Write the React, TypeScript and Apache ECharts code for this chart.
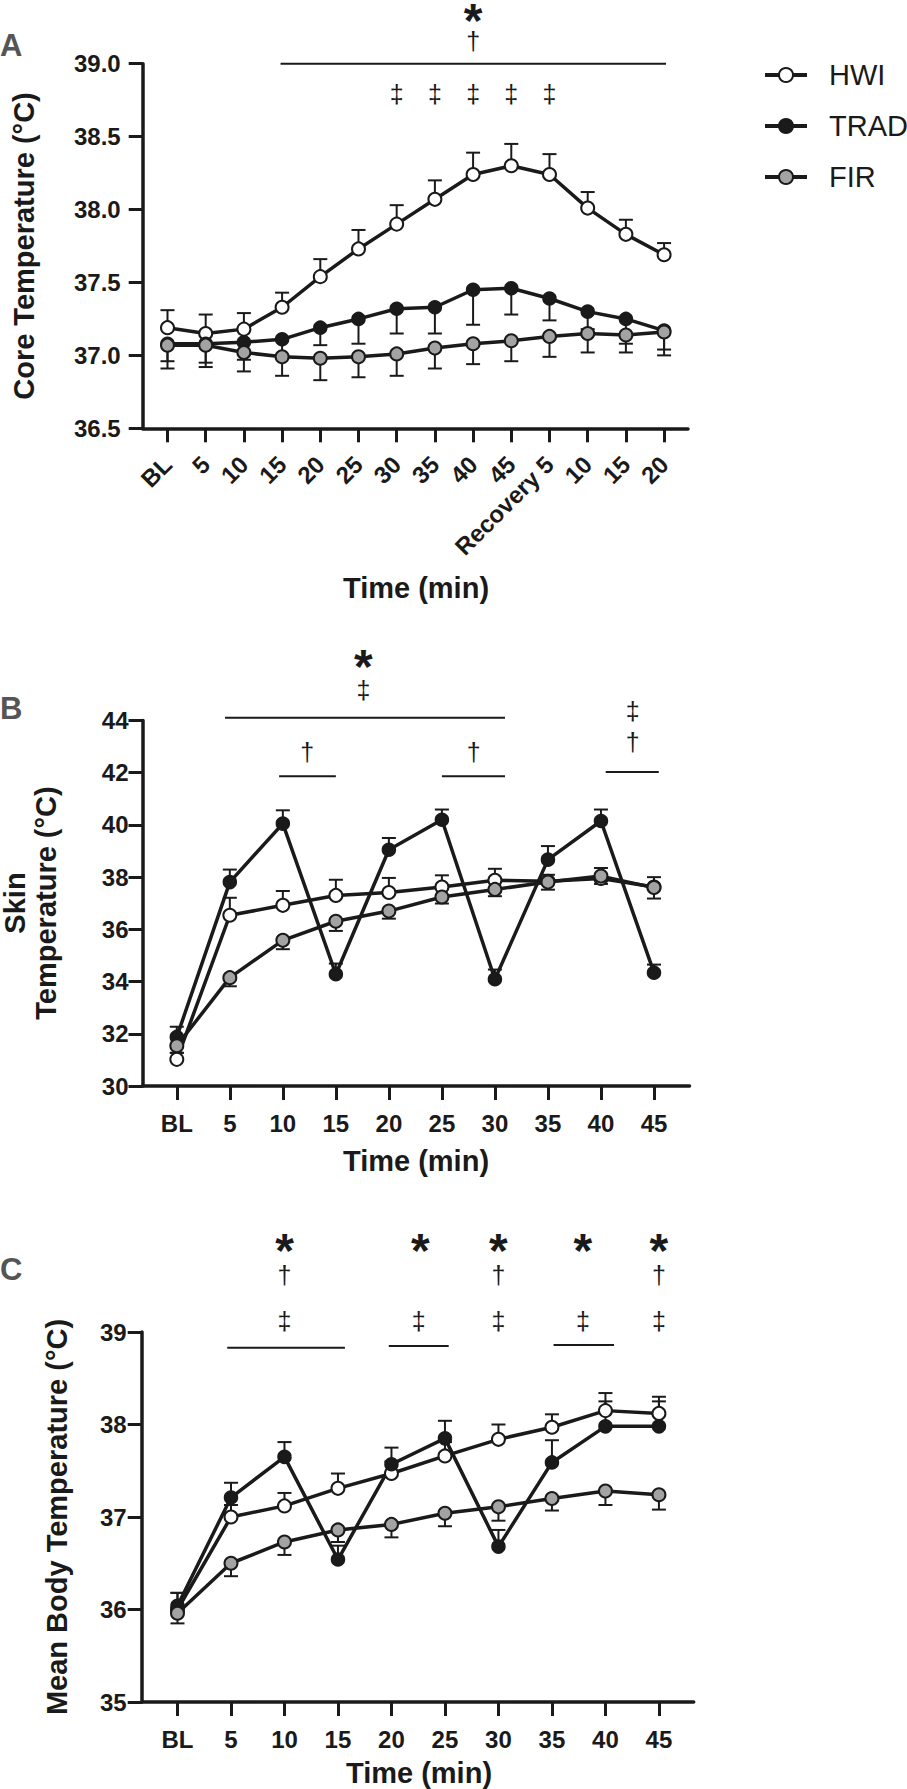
import React, { useEffect, useRef } from 'react';
import * as echarts from 'echarts';

const FONT = '"Liberation Sans", Arial, Helvetica, sans-serif';
const INK = '#1a1a1a';
const GREY = '#a3a3a3';
const LETTER = '#555555';

// ---------- categories ----------
const CAT_A = ['BL', '5', '10', '15', '20', '25', '30', '35', '40', '45', 'Recovery 5', '10', '15', '20'];
const CAT_BC = ['BL', '5', '10', '15', '20', '25', '30', '35', '40', '45'];

// ---------- panel A : core temperature ----------
const HWI_A = [37.19, 37.15, 37.18, 37.33, 37.54, 37.73, 37.9, 38.07, 38.24, 38.3, 38.24, 38.01, 37.83, 37.69];
const HWI_A_ERR = [0.12, 0.13, 0.11, 0.1, 0.12, 0.13, 0.13, 0.13, 0.15, 0.15, 0.14, 0.11, 0.1, 0.08];
const TRAD_A = [37.08, 37.08, 37.09, 37.11, 37.19, 37.25, 37.32, 37.33, 37.45, 37.46, 37.39, 37.3, 37.25, 37.17];
const TRAD_A_ERR = [0.12, 0.13, 0.12, 0.11, 0.12, 0.17, 0.17, 0.18, 0.24, 0.18, 0.15, 0.12, 0.17, 0.13];
const FIR_A = [37.07, 37.07, 37.02, 36.99, 36.98, 36.99, 37.01, 37.05, 37.08, 37.1, 37.13, 37.15, 37.14, 37.16];
const FIR_A_ERR = [0.16, 0.15, 0.13, 0.13, 0.15, 0.14, 0.15, 0.14, 0.14, 0.14, 0.14, 0.13, 0.12, 0.16];

// ---------- panel B : skin temperature ----------
const HWI_B = [31.02, 36.54, 36.92, 37.3, 37.41, 37.62, 37.88, 37.84, 37.95, 37.62];
const HWI_B_ERR = [0.25, 0.67, 0.55, 0.6, 0.56, 0.45, 0.44, 0.25, 0.4, 0.38];
const TRAD_B = [31.88, 37.81, 40.05, 34.28, 39.05, 40.2, 34.09, 38.67, 40.15, 34.34];
const TRAD_B_ERR = [0.39, 0.48, 0.51, 0.41, 0.45, 0.39, 0.37, 0.52, 0.44, 0.31];
const FIR_B = [31.54, 34.15, 35.58, 36.31, 36.7, 37.24, 37.53, 37.81, 38.04, 37.6];
const FIR_B_ERR = [0.27, 0.33, 0.34, 0.37, 0.29, 0.25, 0.26, 0.29, 0.3, 0.42];

// ---------- panel C : mean body temperature ----------
const HWI_C = [36.0, 37.0, 37.12, 37.31, 37.47, 37.66, 37.84, 37.97, 38.15, 38.12];
const HWI_C_ERR = [0.18, 0.13, 0.14, 0.16, 0.13, 0.15, 0.16, 0.14, 0.19, 0.18];
const TRAD_C = [36.04, 37.21, 37.65, 36.54, 37.57, 37.85, 36.68, 37.59, 37.98, 37.98];
const TRAD_C_ERR = [0.14, 0.16, 0.16, 0.15, 0.18, 0.19, 0.18, 0.24, 0.27, 0.27];
const FIR_C = [35.96, 36.5, 36.73, 36.86, 36.92, 37.04, 37.11, 37.2, 37.28, 37.24];
const FIR_C_ERR = [0.11, 0.14, 0.14, 0.13, 0.14, 0.14, 0.15, 0.13, 0.15, 0.16];

// ---------- y-axis ticks ----------
const Y_A = { min: 36.5, max: 39.0, interval: 0.5 };
const Y_B = { min: 30, max: 44, interval: 2 };
const Y_C = { min: 35, max: 39, interval: 1 };

// ---------- significance annotations (x in time-point index, y in axis units) ----------
const SYMBOLS = ['*', '†', '‡'];
const A_SPANS = [[2.96, 13.05, 39.0]];
const A_MARKS = [[8, 39.298, 0], [8, 39.156, 1], [6, 38.789, 2], [7, 38.789, 2], [8, 38.789, 2], [9, 38.789, 2], [10, 38.789, 2]];
const B_SPANS = [[0.91, 6.19, 44.107], [1.93, 3.0, 41.862], [5.0, 6.19, 41.862], [8.09, 9.09, 42.027]];
const B_MARKS = [[3.52, 46.05, 0], [3.52, 45.17, 2], [2.46, 42.8, 1], [5.6, 42.8, 1], [8.6, 44.36, 2], [8.6, 43.19, 1]];
const C_SPANS = [[0.93, 3.13, 38.83], [3.95, 5.07, 38.85], [7.03, 8.16, 38.86]];
const C_MARKS = [
  [2, 39.886, 0], [4.54, 39.886, 0], [6, 39.886, 0], [7.58, 39.886, 0], [9, 39.886, 0],
  [2, 39.616, 1], [6, 39.616, 1], [9, 39.616, 1],
  [2, 39.124, 2], [4.51, 39.124, 2], [6, 39.124, 2], [7.58, 39.124, 2], [9, 39.124, 2],
];

const GROUPS = [
  { name: 'HWI', fill: '#ffffff', size: 13 },
  { name: 'TRAD', fill: INK, size: 12.5 },
  { name: 'FIR', fill: GREY, size: 13 },
];

function axisCommon() {
  return {
    axisLine: { show: true, onZero: false, lineStyle: { color: INK, width: 3.5 } },
    axisTick: { show: true, length: 14, lineStyle: { color: INK, width: 3 } },
    splitLine: { show: false },
  };
}

function xAxis(idx: number, cats: string[], min: number, max: number, rotate: number, margin: number) {
  const ticks = cats.map((_, i) => i);
  const c = axisCommon();
  return {
    type: 'value',
    gridIndex: idx,
    min,
    max,
    axisLine: c.axisLine,
    axisTick: { ...c.axisTick, customValues: ticks },
    splitLine: c.splitLine,
    axisLabel: {
      customValues: ticks,
      formatter: (v: number) => cats[Math.round(v)] ?? '',
      rotate,
      margin,
      color: INK,
      fontFamily: FONT,
      fontWeight: 'bold',
      fontSize: 24,
      lineHeight: 24,
    },
  };
}

function yAxis(idx: number, cfg: { min: number; max: number; interval: number }, decimals: number, margin: number) {
  const c = axisCommon();
  return {
    type: 'value',
    gridIndex: idx,
    min: cfg.min,
    max: cfg.max,
    interval: cfg.interval,
    ...c,
    axisLabel: {
      margin,
      color: INK,
      fontFamily: FONT,
      fontWeight: 'bold',
      fontSize: 24,
      formatter: (v: number) => v.toFixed(decimals),
    },
  };
}

function panelSeries(p: number, values: number[][], errs: number[][], dirs: number[]) {
  const out: any[] = [];
  GROUPS.forEach((g, gi) => {
    const vals = values[gi];
    const err = errs[gi];
    const dir = dirs[gi];
    out.push({
      type: 'custom',
      name: 'err-' + g.name + '-' + p,
      xAxisIndex: p,
      yAxisIndex: p,
      silent: true,
      clip: false,
      data: vals.map((v, i) => [i, v, err[i] * dir]),
      encode: { x: 0, y: 1 },
      renderItem: (_params: any, api: any) => {
        const x = api.value(0);
        const y = api.value(1);
        const d = api.value(2);
        const p0 = api.coord([x, y]);
        const p1 = api.coord([x, y + d]);
        const hw = 7;
        return {
          type: 'group',
          children: [
            { type: 'line', shape: { x1: p0[0], y1: p0[1], x2: p1[0], y2: p1[1] }, style: { stroke: INK, lineWidth: 2 } },
            { type: 'line', shape: { x1: p1[0] - hw, y1: p1[1], x2: p1[0] + hw, y2: p1[1] }, style: { stroke: INK, lineWidth: 2 } },
          ],
        };
      },
    });
    out.push({
      type: 'line',
      name: g.name,
      xAxisIndex: p,
      yAxisIndex: p,
      silent: true,
      data: vals.map((v, i) => [i, v]),
      symbol: 'circle',
      symbolSize: g.size,
      showAllSymbol: true,
      lineStyle: { color: INK, width: 3.5 },
      itemStyle: { color: g.fill, borderColor: INK, borderWidth: 2 },
      emphasis: { disabled: true },
    });
  });
  return out;
}

function annotationSeries(p: number, spans: number[][], marks: number[][]) {
  return [
    {
      type: 'custom',
      name: 'sig-lines-' + p,
      xAxisIndex: p,
      yAxisIndex: p,
      silent: true,
      clip: false,
      data: spans,
      encode: { x: 0, y: 2 },
      renderItem: (_params: any, api: any) => {
        const a = api.coord([api.value(0), api.value(2)]);
        const b = api.coord([api.value(1), api.value(2)]);
        return { type: 'line', shape: { x1: a[0], y1: a[1], x2: b[0], y2: b[1] }, style: { stroke: INK, lineWidth: 2 } };
      },
    },
    {
      type: 'custom',
      name: 'sig-marks-' + p,
      xAxisIndex: p,
      yAxisIndex: p,
      silent: true,
      clip: false,
      data: marks,
      encode: { x: 0, y: 1 },
      renderItem: (_params: any, api: any) => {
        const pt = api.coord([api.value(0), api.value(1)]);
        const k = api.value(2);
        const star = k === 0;
        return {
          type: 'text',
          x: pt[0],
          y: pt[1],
          style: {
            text: SYMBOLS[k],
            fill: INK,
            align: 'center',
            verticalAlign: 'middle',
            fontFamily: FONT,
            fontWeight: star ? 'bold' : 'normal',
            fontSize: star ? 48 : 25,
          },
        };
      },
    },
  ];
}

function titleText(text: string, x: number, y: number, rotation = 0) {
  return {
    type: 'text',
    x,
    y,
    rotation,
    silent: true,
    style: {
      text,
      fill: INK,
      align: 'center',
      verticalAlign: 'middle',
      fontFamily: FONT,
      fontWeight: 'bold',
      fontSize: 29,
    },
  };
}

function letterText(text: string, y: number) {
  return {
    type: 'text',
    x: 0,
    y,
    silent: true,
    style: { text, fill: LETTER, align: 'left', verticalAlign: 'middle', fontFamily: FONT, fontWeight: 'bold', fontSize: 31 },
  };
}

export default function App() {
  const ref = useRef<HTMLDivElement>(null);
  useEffect(() => {
    if (!ref.current) return;
    const chart = echarts.init(ref.current, undefined, { renderer: 'svg' });
    const option: any = {
      animation: false,
      backgroundColor: '#ffffff',
      textStyle: { fontFamily: FONT },
      grid: [
        { left: 142.7, top: 63.7, width: 545.3, height: 364.6 },
        { left: 142.5, top: 720.5, width: 547, height: 365.5 },
        { left: 141.7, top: 1332, width: 552, height: 370 },
      ],
      xAxis: [
        xAxis(0, CAT_A, -0.649, 13.626, 45, 32),
        xAxis(1, CAT_BC, -0.647, 9.67, 0, 25),
        xAxis(2, CAT_BC, -0.669, 9.65, 0, 25),
      ],
      yAxis: [yAxis(0, Y_A, 1, 22), yAxis(1, Y_B, 0, 14), yAxis(2, Y_C, 0, 15)],
      legend: {
        data: ['HWI', 'TRAD', 'FIR'],
        orient: 'vertical',
        left: 763,
        top: 60,
        padding: 0,
        itemWidth: 42,
        itemHeight: 17.5,
        itemGap: 21,
        selectedMode: false,
        lineStyle: { width: 4 },
        textStyle: { fontFamily: FONT, fontSize: 29, color: INK, lineHeight: 30, padding: [0, 0, 0, 17] },
      },
      graphic: [
        letterText('A', 45),
        letterText('B', 708),
        letterText('C', 1269.5),
        titleText('Core Temperature (°C)', 24, 246, Math.PI / 2),
        titleText('Skin', 15, 903, Math.PI / 2),
        titleText('Temperature (°C)', 46, 903, Math.PI / 2),
        titleText('Mean Body Temperature (°C)', 56.7, 1517, Math.PI / 2),
        titleText('Time (min)', 416, 587.5),
        titleText('Time (min)', 416, 1161),
        titleText('Time (min)', 419, 1773),
      ],
      series: [
        ...panelSeries(0, [HWI_A, TRAD_A, FIR_A], [HWI_A_ERR, TRAD_A_ERR, FIR_A_ERR], [1, -1, -1]),
        ...panelSeries(1, [HWI_B, TRAD_B, FIR_B], [HWI_B_ERR, TRAD_B_ERR, FIR_B_ERR], [1, 1, -1]),
        ...panelSeries(2, [HWI_C, TRAD_C, FIR_C], [HWI_C_ERR, TRAD_C_ERR, FIR_C_ERR], [1, 1, -1]),
        ...annotationSeries(0, A_SPANS, A_MARKS),
        ...annotationSeries(1, B_SPANS, B_MARKS),
        ...annotationSeries(2, C_SPANS, C_MARKS),
      ],
    };
    chart.setOption(option);
    return () => chart.dispose();
  }, []);
  return <div ref={ref} style={{ position: 'absolute', left: 0, top: 0, width: 907, height: 1789, background: '#fff' }} />;
}
